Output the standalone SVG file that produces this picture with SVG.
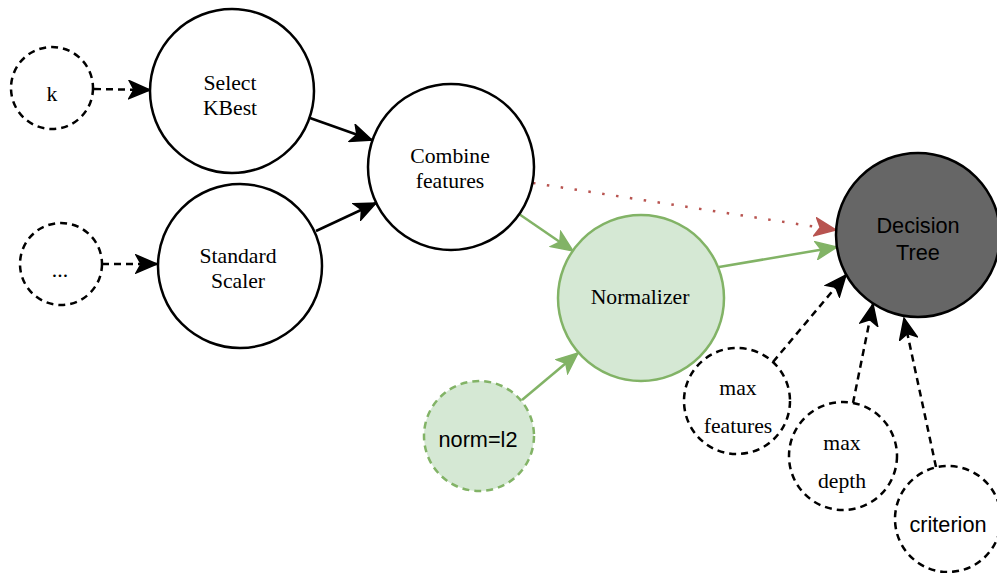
<svg xmlns="http://www.w3.org/2000/svg" width="997" height="573" viewBox="0 0 997 573">
<style>
.node{fill:#ffffff;stroke:#000000;stroke-width:2.5}
.param{fill:#ffffff;stroke:#000000;stroke-width:2.5;stroke-dasharray:7 5}
.green{fill:#d5e8d4;stroke:#82b366;stroke-width:2.5}
.greendash{fill:#d5e8d4;stroke:#82b366;stroke-width:2.5;stroke-dasharray:7 5}
.dark{fill:#666666;stroke:#000000;stroke-width:2.5}
.serif{font-family:"Liberation Serif","Times New Roman",serif;font-size:21.7px;fill:#000000;text-anchor:middle}
.sans{font-family:"Liberation Sans",Arial,Helvetica,sans-serif;font-size:21.7px;fill:#000000;text-anchor:middle}
.e-black{fill:none;stroke:#000000;stroke-width:2.5}
.e-dash{fill:none;stroke:#000000;stroke-width:2.5;stroke-dasharray:7 5}
.e-green{fill:none;stroke:#82b366;stroke-width:2.5}
.e-red{fill:none;stroke:#b85450;stroke-width:2.5;stroke-dasharray:2.5 11.5}
</style>
<defs>
<marker id="ab" markerUnits="userSpaceOnUse" markerWidth="24" markerHeight="20" viewBox="0 0 24 20" refX="22" refY="10" orient="auto">
<path d="M1,1 L22,10 L1,19 L6,10 Z" fill="#000000" stroke="#000000" stroke-width="1.5"/>
</marker>
<marker id="ag" markerUnits="userSpaceOnUse" markerWidth="24" markerHeight="20" viewBox="0 0 24 20" refX="22" refY="10" orient="auto">
<path d="M1,1 L22,10 L1,19 L6,10 Z" fill="#82b366" stroke="#82b366" stroke-width="1.5"/>
</marker>
<marker id="ar" markerUnits="userSpaceOnUse" markerWidth="24" markerHeight="20" viewBox="0 0 24 20" refX="22" refY="10" orient="auto">
<path d="M1,1 L22,10 L1,19 L6,10 Z" fill="#b85450" stroke="#b85450" stroke-width="1.5"/>
</marker>
</defs>
<rect width="997" height="573" fill="#ffffff"/>
<g id="connectors">
<line class="e-dash" x1="94" y1="89" x2="150" y2="90" marker-end="url(#ab)"/>
<line class="e-dash" x1="102" y1="264" x2="157" y2="264" marker-end="url(#ab)"/>
<line class="e-black" x1="310" y1="118" x2="372" y2="140" marker-end="url(#ab)"/>
<line class="e-black" x1="316" y1="231" x2="376" y2="203" marker-end="url(#ab)"/>
<line class="e-red" x1="533" y1="183" x2="836" y2="230" marker-end="url(#ar)"/>
<line class="e-green" x1="519" y1="214" x2="573" y2="251" marker-end="url(#ag)"/>
<line class="e-green" x1="719" y1="267" x2="837" y2="247" marker-end="url(#ag)"/>
<line class="e-green" x1="522" y1="400" x2="578" y2="353" marker-end="url(#ag)"/>
<line class="e-dash" x1="773" y1="362" x2="846" y2="275" marker-end="url(#ab)"/>
<line class="e-dash" x1="853" y1="403" x2="873" y2="304" marker-end="url(#ab)"/>
<line class="e-dash" x1="936" y1="467" x2="904" y2="318" marker-end="url(#ab)"/>
</g>
<g id="k">
<circle class="param" cx="52" cy="88" r="41"/>
<text class="serif" x="52" y="101">k</text>
</g>
<g id="dots">
<circle class="param" cx="61" cy="264" r="41"/>
<text class="serif" x="60" y="277">...</text>
</g>
<g id="selectkbest">
<circle class="node" cx="232" cy="91" r="82"/>
<text class="serif" x="230" y="90">Select</text>
<text class="serif" x="230" y="115">KBest</text>
</g>
<g id="standardscaler">
<circle class="node" cx="240" cy="266" r="82"/>
<text class="serif" x="238" y="263">Standard</text>
<text class="serif" x="238" y="288">Scaler</text>
</g>
<g id="combine">
<circle class="node" cx="451" cy="167" r="83"/>
<text class="serif" x="450" y="163">Combine</text>
<text class="serif" x="450" y="188">features</text>
</g>
<g id="normalizer">
<circle class="green" cx="641" cy="298" r="83"/>
<text class="serif" x="640" y="304">Normalizer</text>
</g>
<g id="norm">
<circle class="greendash" cx="479" cy="436" r="55"/>
<text class="sans" x="478" y="447">norm=l2</text>
</g>
<g id="decisiontree">
<circle class="dark" cx="918" cy="235" r="82"/>
<text class="sans" x="918" y="233">Decision</text>
<text class="sans" x="918" y="260">Tree</text>
</g>
<g id="maxfeatures">
<circle class="param" cx="737" cy="401" r="53"/>
<text class="serif" x="738" y="395">max</text>
<text class="serif" x="738" y="433">features</text>
</g>
<g id="maxdepth">
<circle class="param" cx="843" cy="456" r="54"/>
<text class="serif" x="842" y="450">max</text>
<text class="serif" x="842" y="488">depth</text>
</g>
<g id="criterion">
<circle class="param" cx="948" cy="519" r="53"/>
<text class="sans" x="948" y="532">criterion</text>
</g>
</svg>
